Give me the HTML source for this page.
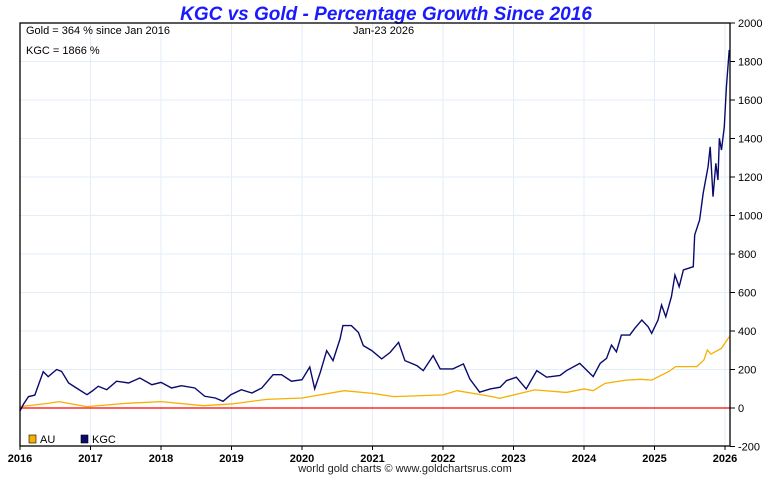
<!DOCTYPE html>
<html><head><meta charset="utf-8">
<style>
body{margin:0;background:#fff;width:772px;height:475px;overflow:hidden;font-family:"Liberation Sans",sans-serif}
svg text{font-family:"Liberation Sans",sans-serif}
</style></head>
<body>
<svg width="772" height="475">
<text x="386" y="20" text-anchor="middle" font-size="19" font-weight="bold" font-style="italic" fill="#1a1aff">KGC vs Gold - Percentage Growth Since 2016</text>
<g id="grid"></g>
<g id="series"></g>
<rect x="20" y="23" width="710" height="423" fill="none" stroke="#000" stroke-width="1.3"/>
<g id="axes"></g>
<text x="26" y="34" font-size="11">Gold = 364 % since Jan 2016</text>
<text x="353" y="34" font-size="11">Jan-23  2026</text>
<text x="26" y="54" font-size="11">KGC = 1866 %</text>
<g>
<rect x="29" y="435" width="7" height="8" fill="#f5b000" stroke="#000" stroke-width="0.6"/>
<text x="40" y="443" font-size="11">AU</text>
<rect x="81" y="435" width="7" height="8" fill="#0a0a6e" stroke="#000" stroke-width="0.6"/>
<text x="92" y="443" font-size="11">KGC</text>
</g>
<text x="405" y="472" text-anchor="middle" font-size="11" fill="#222">world gold charts © www.goldchartsrus.com</text>
</svg>
<script>
const yTicks=[2000,1800,1600,1400,1200,1000,800,600,400,200,0,-200];
const xTickYears=[2016,2017,2018,2019,2020,2021,2022,2023,2024,2025,2026];
const kgcYears=[2016.0,2016.05,2016.12,2016.21,2016.33,2016.40,2016.52,2016.59,2016.69,2016.80,2016.95,2017.02,2017.11,2017.23,2017.37,2017.54,2017.70,2017.87,2018.00,2018.15,2018.29,2018.48,2018.62,2018.77,2018.88,2018.99,2019.14,2019.29,2019.43,2019.59,2019.71,2019.85,2020.00,2020.11,2020.18,2020.26,2020.35,2020.44,2020.54,2020.58,2020.70,2020.80,2020.87,2020.99,2021.13,2021.25,2021.37,2021.46,2021.63,2021.72,2021.86,2021.96,2022.14,2022.29,2022.38,2022.52,2022.67,2022.81,2022.90,2023.04,2023.18,2023.33,2023.47,2023.66,2023.75,2023.94,2024.13,2024.23,2024.32,2024.39,2024.46,2024.53,2024.65,2024.72,2024.82,2024.91,2024.96,2025.05,2025.10,2025.16,2025.24,2025.29,2025.35,2025.41,2025.55,2025.57,2025.64,2025.69,2025.76,2025.79,2025.83,2025.87,2025.90,2025.92,2025.95,2025.99,2026.02,2026.06];
const kgcValues=[-15,20,59,67,189,163,200,190,130,104,69,87,113,95,139,130,156,121,133,104,116,104,61,52,35,69,95,78,104,173,173,139,147,213,100,186,298,246,359,428,428,393,324,298,255,289,341,246,220,194,272,203,203,229,151,82,99,108,142,160,99,194,160,169,194,232,163,232,258,327,292,379,379,414,457,422,388,457,535,474,578,691,630,717,734,899,977,1115,1254,1357,1098,1271,1184,1401,1340,1461,1669,1860];
const auYears=[2016.0,2016.4,2016.55,2016.95,2017.5,2018.0,2018.6,2019.0,2019.5,2020.0,2020.6,2021.0,2021.3,2022.0,2022.2,2022.7,2022.8,2023.3,2023.75,2024.0,2024.13,2024.3,2024.6,2024.8,2024.96,2025.2,2025.3,2025.6,2025.7,2025.75,2025.8,2025.95,2026.06];
const auValues=[7,24,33,7,24,33,12,21,45,52,90,76,59,68,90,59,50,94,81,99,90,128,145,149,145,189,215,215,249,301,280,310,370];
const NS='http://www.w3.org/2000/svg';
const X=y=>20+(y-2016)*70.5;
const Y=v=>408-v*0.1925;
const grid=document.getElementById('grid'),axes=document.getElementById('axes'),ser=document.getElementById('series');
function mk(tag,attrs,parent){const e=document.createElementNS(NS,tag);for(const k in attrs)e.setAttribute(k,attrs[k]);parent.appendChild(e);return e;}
yTicks.forEach(v=>{
  if(v!==0&&v!==2000&&v!==-200){const l=mk('line',{x1:20,x2:730,y1:Y(v),y2:Y(v),stroke:'#e3eef8','stroke-width':1},grid);
  
  }
  const t=mk('line',{x1:730,x2:735,y1:Y(v),y2:Y(v),stroke:'#000'},axes);
  
  
  const tx=mk('text',{x:738,y:Y(v)+4,'font-size':11},axes);tx.textContent=v;
  
  
});
xTickYears.forEach(yr=>{
  if(yr>2016){const l=mk('line',{x1:X(yr),x2:X(yr),y1:23,y2:446,stroke:'#e3eef8','stroke-width':1},grid);
  
  }
  const t=mk('line',{x1:X(yr),x2:X(yr),y1:446,y2:450,stroke:'#000'},axes);
  
  
  const tx=mk('text',{x:X(yr),y:462,'font-size':11,'font-weight':'bold','text-anchor':'middle'},axes);tx.textContent=yr;
  
  
});
const zl=mk('line',{x1:20,x2:730,y1:Y(0),y2:Y(0),stroke:'#ff0000','stroke-width':1.2},ser);


const au=mk('polyline',{points:auYears.map((y,i)=>X(y)+','+Y(auValues[i])).join(' '),fill:'none',stroke:'#f5b000','stroke-width':1.3},ser);


const kg=mk('polyline',{points:kgcYears.map((y,i)=>X(y)+','+Y(kgcValues[i])).join(' '),fill:'none',stroke:'#0a0a6e','stroke-width':1.4},ser);


</script>
</body></html>
